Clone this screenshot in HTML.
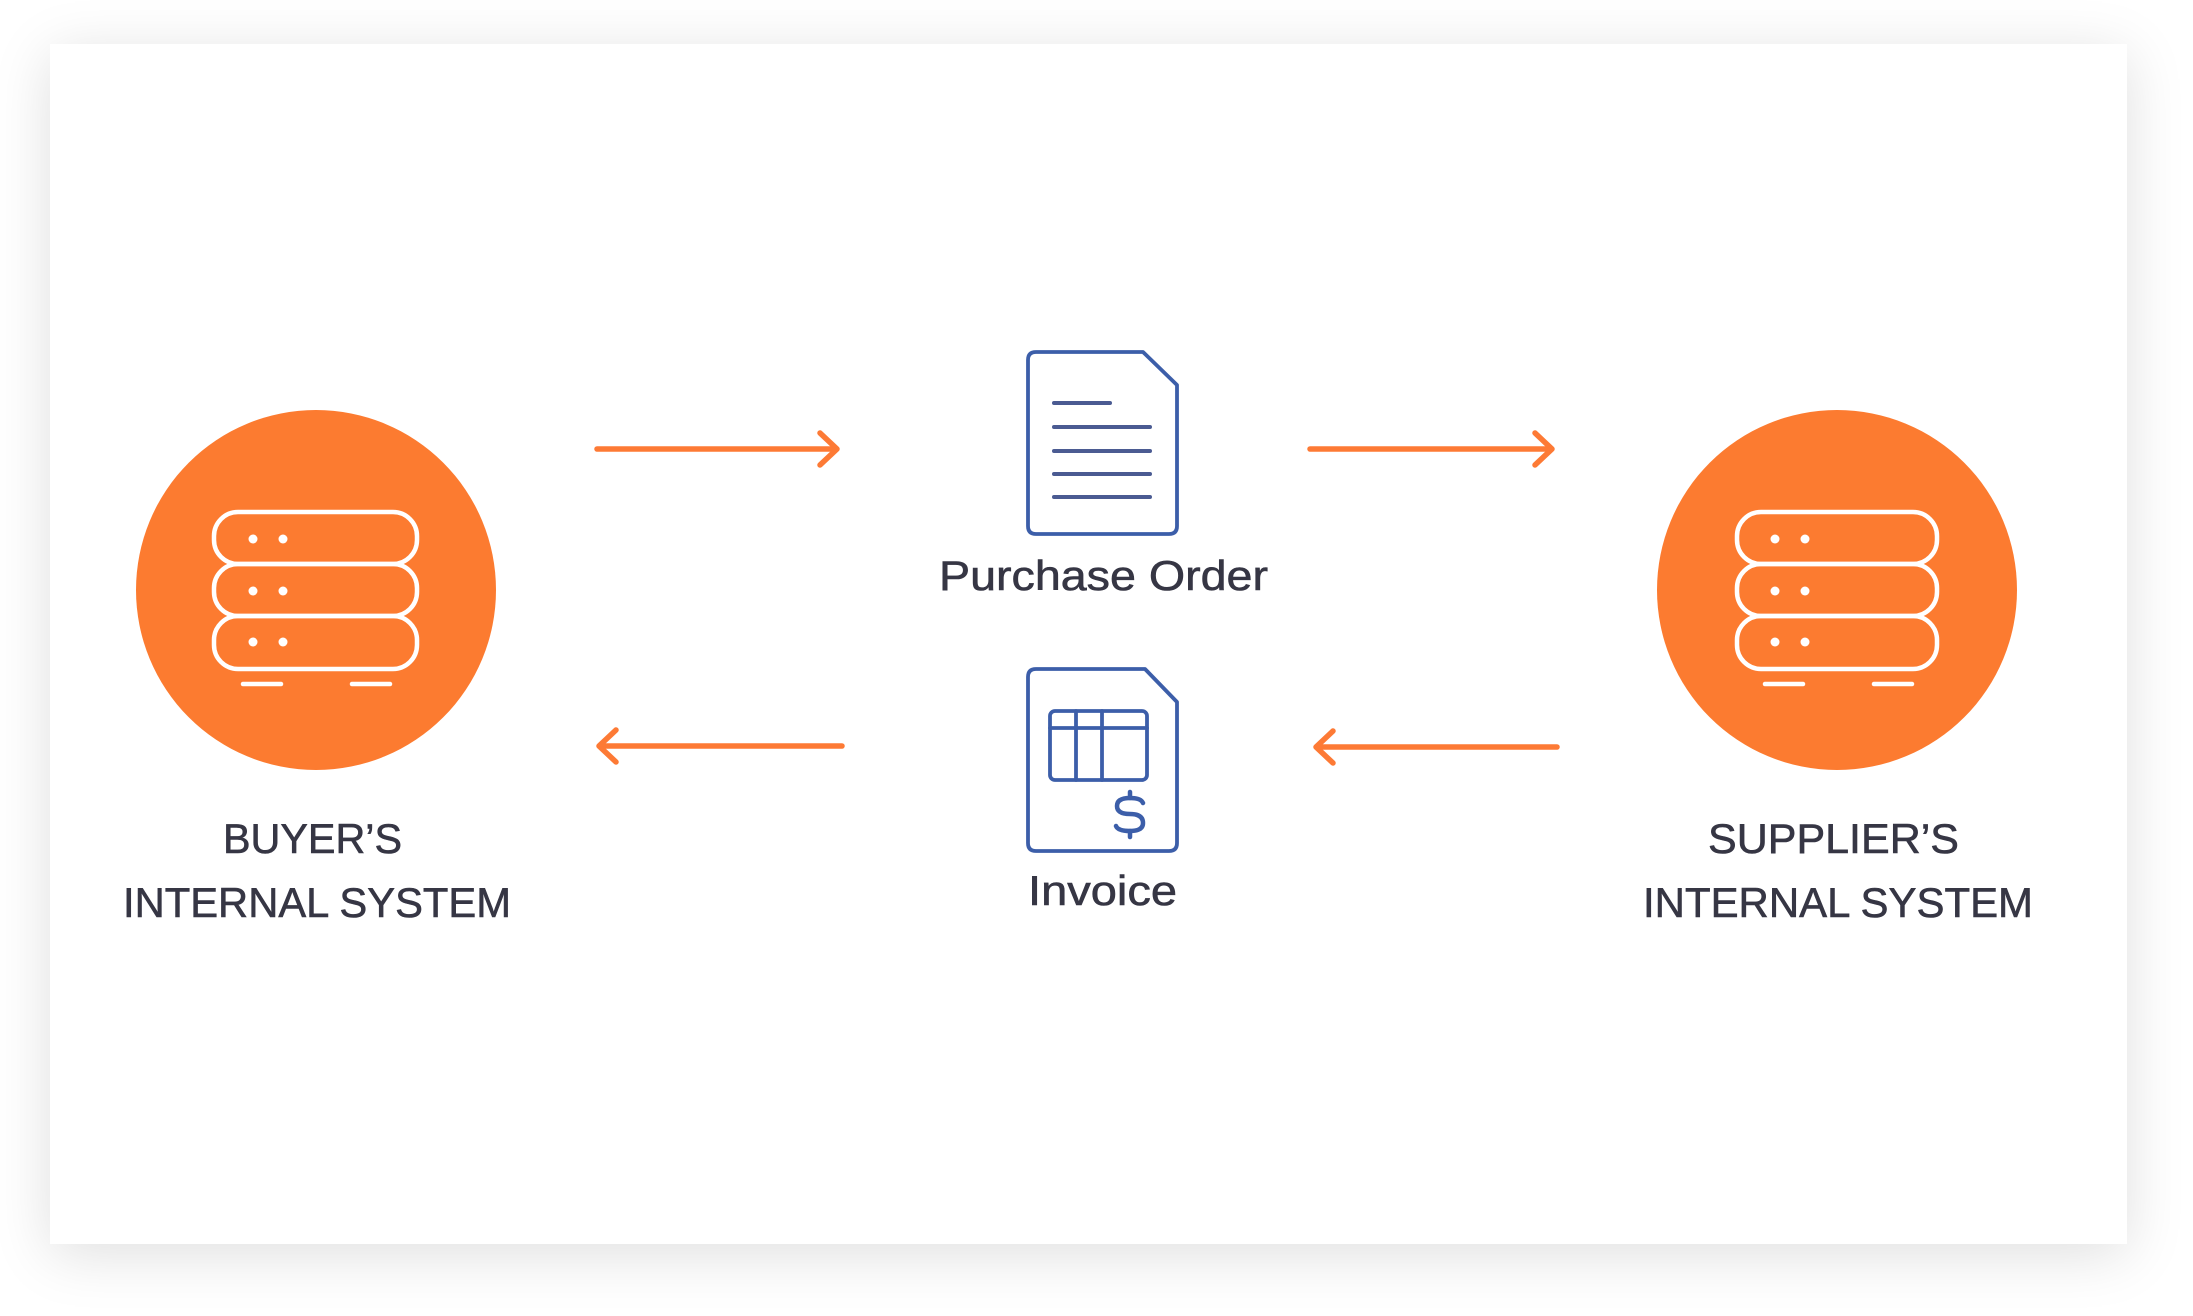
<!DOCTYPE html>
<html>
<head>
<meta charset="utf-8">
<style>
  html, body { margin: 0; padding: 0; width: 2193px; height: 1316px; background: #ffffff; overflow: hidden; }
  .card { position: absolute; left: 50px; top: 44px; width: 2077px; height: 1200px; background: #ffffff;
          box-shadow: 0 10px 55px rgba(0,0,0,0.13); }
  svg { position: absolute; left: 0; top: 0; }
  text { font-family: "Liberation Sans", "DejaVu Sans", sans-serif; fill: #363644; font-size: 42px;
         stroke: #363644; stroke-width: 0.6px; }
</style>
</head>
<body>
<div class="card"></div>
<svg width="2193" height="1316" viewBox="0 0 2193 1316" xmlns="http://www.w3.org/2000/svg">
  <!-- Buyer circle -->
  <circle cx="316" cy="590" r="180" fill="#fc7b30"/>
  <g fill="none" stroke="#ffffff" stroke-width="4.5" stroke-linecap="round">
    <rect x="214" y="512" width="203" height="52" rx="24"/>
    <rect x="214" y="564" width="203" height="52" rx="24"/>
    <rect x="214" y="616" width="203" height="53" rx="24"/>
    <line x1="243" y1="684" x2="281" y2="684"/>
    <line x1="352" y1="684" x2="390" y2="684"/>
  </g>
  <g fill="#ffffff">
    <circle cx="253" cy="539" r="4.5"/><circle cx="283" cy="539" r="4.5"/>
    <circle cx="253" cy="591" r="4.5"/><circle cx="283" cy="591" r="4.5"/>
    <circle cx="253" cy="642" r="4.5"/><circle cx="283" cy="642" r="4.5"/>
  </g>

  <!-- Supplier circle -->
  <circle cx="1837" cy="590" r="180" fill="#fc7b30"/>
  <g fill="none" stroke="#ffffff" stroke-width="4.5" stroke-linecap="round">
    <rect x="1737" y="512" width="200" height="52" rx="24"/>
    <rect x="1737" y="564" width="200" height="52" rx="24"/>
    <rect x="1737" y="616" width="200" height="53" rx="24"/>
    <line x1="1765" y1="684" x2="1803" y2="684"/>
    <line x1="1874" y1="684" x2="1912" y2="684"/>
  </g>
  <g fill="#ffffff">
    <circle cx="1775" cy="539" r="4.5"/><circle cx="1805" cy="539" r="4.5"/>
    <circle cx="1775" cy="591" r="4.5"/><circle cx="1805" cy="591" r="4.5"/>
    <circle cx="1775" cy="642" r="4.5"/><circle cx="1805" cy="642" r="4.5"/>
  </g>

  <!-- Arrows -->
  <g fill="none" stroke="#fd7a35" stroke-width="5.5" stroke-linecap="round" stroke-linejoin="round">
    <line x1="597" y1="449" x2="836" y2="449"/>
    <polyline points="820,433 837,449 820,465"/>
    <line x1="842" y1="746" x2="600" y2="746"/>
    <polyline points="616,730 599,746 616,762"/>
    <line x1="1310" y1="449" x2="1551" y2="449"/>
    <polyline points="1535,433 1552,449 1535,465"/>
    <line x1="1557" y1="747" x2="1317" y2="747"/>
    <polyline points="1333,731 1316,747 1333,763"/>
  </g>

  <!-- Purchase order doc -->
  <g fill="none" stroke="#3c5ea9" stroke-width="3.8" stroke-linejoin="round">
    <path d="M1036,352 H1143 L1177,385 V526 Q1177,534 1169,534 H1036 Q1028,534 1028,526 V360 Q1028,352 1036,352 Z"/>
  </g>
  <g stroke="#4b5b92" stroke-width="4" stroke-linecap="round">
    <line x1="1054" y1="403" x2="1110" y2="403"/>
    <line x1="1054" y1="427" x2="1150" y2="427"/>
    <line x1="1054" y1="451" x2="1150" y2="451"/>
    <line x1="1054" y1="474" x2="1150" y2="474"/>
    <line x1="1054" y1="497" x2="1150" y2="497"/>
  </g>

  <!-- Invoice doc -->
  <g fill="none" stroke="#3c5ea9" stroke-width="3.8" stroke-linejoin="round" stroke-linecap="round">
    <path d="M1036,669 H1145 L1177,702 V843 Q1177,851 1169,851 H1036 Q1028,851 1028,843 V677 Q1028,669 1036,669 Z"/>
    <rect x="1050" y="711" width="97" height="69" rx="5"/>
    <line x1="1050" y1="728" x2="1147" y2="728"/>
    <line x1="1076" y1="711" x2="1076" y2="780"/>
    <line x1="1102" y1="711" x2="1102" y2="780"/>
  </g>
  <g fill="none" stroke="#3c5ea9" stroke-width="4.5" stroke-linejoin="round" stroke-linecap="round">
    <path d="M1143,803 Q1141,798 1130,798 Q1117,798 1117,806 Q1117,814 1130,814 Q1143,814 1143,823 Q1143,831 1130,831 Q1118,831 1116,826"/>
    <line x1="1130" y1="792" x2="1130" y2="798"/>
    <line x1="1130" y1="831" x2="1130" y2="837"/>
  </g>

  <!-- Labels -->
  <text x="939" y="590" textLength="329" lengthAdjust="spacingAndGlyphs">Purchase Order</text>
  <text x="1028" y="905" textLength="149" lengthAdjust="spacingAndGlyphs">Invoice</text>

  <text x="223" y="853" textLength="179" lengthAdjust="spacingAndGlyphs">BUYER’S</text>
  <text x="123" y="917" textLength="388" lengthAdjust="spacingAndGlyphs">INTERNAL SYSTEM</text>

  <text x="1708" y="853" textLength="251" lengthAdjust="spacingAndGlyphs">SUPPLIER’S</text>
  <text x="1643" y="917" textLength="390" lengthAdjust="spacingAndGlyphs">INTERNAL SYSTEM</text>
</svg>
</body>
</html>
